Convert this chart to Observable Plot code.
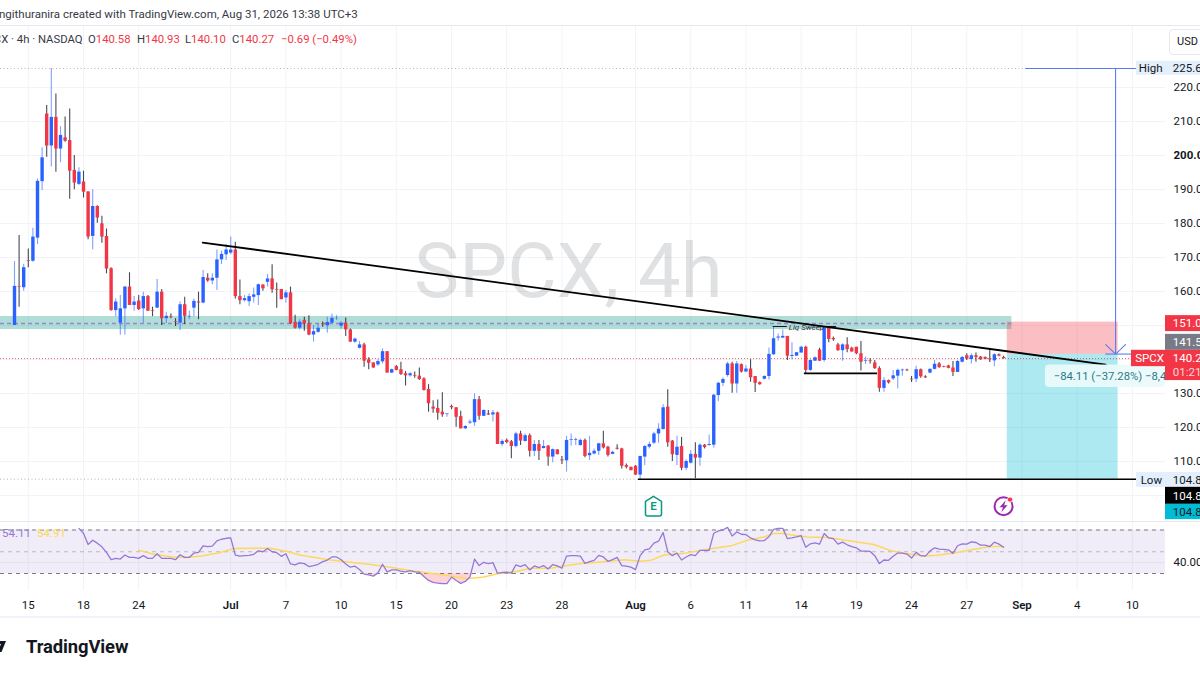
<!doctype html>
<html><head><meta charset="utf-8">
<script src="https://cdn.jsdelivr.net/npm/d3@7"></script>
<script src="https://cdn.jsdelivr.net/npm/@observablehq/plot@0.6"></script>
<style>
html,body{margin:0;padding:0;background:#fff;width:1200px;height:675px;overflow:hidden;font-family:Roboto,sans-serif;color:#131722}
#page{position:relative;width:1200px;height:675px;overflow:hidden}
.abs{position:absolute;white-space:nowrap}
.line{position:absolute;left:0;width:1200px;height:1px;background:#e6e8ef}
.leg{font-size:11.3px;top:33px;color:#363a45}
#main,#rsi{position:absolute;left:0;width:1200px}
#main{top:26px;height:495px}
#rsi{top:522px;height:95px}
#main svg,#rsi svg{display:block;background:transparent}
</style></head><body>
<div id="page">
<div class="abs" id="author" style="left:-1px;top:7px;font-size:11.5px;color:#363a45">ngithuranira created with TradingView.com, Aug 31, 2026 13:38 UTC+3</div>
<div class="line" style="top:25px"></div>
<div id="main"></div>
<div id="rsi"></div>
<div class="line" style="top:521px"></div>
<div class="abs leg" style="left:-20px">SPCX · 4h · NASDAQ</div>
<div class="abs leg" style="left:88px">O<span style="color:#f23645">140.58</span></div>
<div class="abs leg" style="left:137px">H<span style="color:#f23645">140.93</span></div>
<div class="abs leg" style="left:185px">L<span style="color:#f23645">140.10</span></div>
<div class="abs leg" style="left:232px">C<span style="color:#f23645">140.27</span></div>
<div class="abs leg" style="left:281px;color:#f23645">−0.69 (−0.49%)</div>
<div class="abs" style="left:1169px;top:29px;width:40px;height:24px;border:1px solid #e6e8ef;border-radius:4px;background:#fff"></div>
<div class="abs" style="left:1177px;top:35px;font-size:11px;color:#131722">USD</div>
<div class="abs" style="left:2px;top:526px;font-size:11.5px;color:#9478d0">54.11</div>
<div class="abs" style="left:37px;top:526px;font-size:11.5px;color:#fbd955">54.91</div>
<div class="line" style="top:616px;height:2px;background:#f0f3fa"></div>
<div class="abs" style="left:26px;top:636px;font-size:18.4px;font-weight:700;letter-spacing:-.1px;color:#131722">TradingView</div>
<svg class="abs" style="left:0;top:641px" width="6" height="12" aria-hidden="true"><path d="M-3 0H6L1.5 11H-2.5L1 3H-3Z" fill="#131722"/></svg>
</div>
<script>
const opens=[150,161.5,161.1,169.1,168.9,175.7,192.3,212.2,202.8,211.2,
201.9,205.2,204.4,195.6,191.5,192.2,189.3,176.2,185,179.9,
176.2,166.7,154.4,150.7,154.9,161.3,155.9,157.2,154.9,158.5,
154.4,155.1,159.8,152,152.7,151.1,150.7,156.1,152.5,155.1,
156.9,156.6,163.9,163.1,163.9,169.3,170.8,171.3,172.2,158.5,
157.3,157,158.3,158.8,161.9,162.7,163.7,160.6,160.6,158.1,
159.6,150.9,149.2,151.5,150.5,147.2,148,150.5,149.9,150.7,
152,149.8,150.7,148.7,145.1,143.3,144.3,139.9,139,138.4,
139.3,142.3,136,137.9,137,135.8,135.2,135.2,135.1,134.3,
131.2,126,125.6,124.5,123.8,126.2,125.8,123.2,119.6,121.3,
121.4,128.2,123.3,124,123.7,124.3,115,116.2,115.8,114.4,
118.1,115.9,117.6,113,115,113.8,114.5,111.3,113.4,110.5,
110.2,116.2,116.2,114.7,116.2,111.7,112.2,113,115.2,114.2,
112.1,113.9,113.7,108.8,108.3,108.6,106,111.3,114.2,115.4,
118.1,119.4,126,116,111.8,114.4,108,109.5,112.1,111,
114.8,114.7,114.8,129.4,133,135.3,138.7,132.8,138.5,136.3,
137.2,135,133.2,134.2,135,141.4,146.3,146.3,146.8,140.9,
141,141.9,143.6,136.8,139.5,142.8,139.7,149.3,146.2,144.3,
142.6,144.3,143.3,143.6,141.7,139.4,139.6,139,137.3,131.5,
133.8,134.3,135.1,136.7,136.9,134.2,134.2,137,134.9,136,
137.1,138.7,137.9,138.1,137.5,136.2,139.2,141.1,140,141.1,
140.7,140.6,140.2,139.6,141.4,140.58];
const highs=[168.8,176.5,168,172.5,178.6,193.1,202.3,214.7,225.6,218.1,
208.5,211.3,213.7,200,196.4,195.4,189.3,189.9,185.2,182.1,
178.4,167,157.8,158.8,161.5,165.5,158.5,158.8,159.8,158.8,
155.4,163.5,160.6,153.9,153.4,152,156.9,158.3,154.2,157.8,
159.8,166.2,165.2,165.2,172.2,171.9,173.8,176,174.5,163.4,
158.8,159.3,161,162.2,162,165,167.9,162.5,160.6,160.3,
161.3,153,151.7,152.4,152.9,150,150.5,151,152.4,153.4,
152.9,151,152.2,149,146.3,145.3,144.8,140.5,139,139.9,
143.1,142.3,137.2,138.2,139.2,136.5,136.1,136.3,137.5,134.6,
132.6,127.9,128.1,130.2,124,126.6,125.8,124.8,120.5,122.2,
129.9,129.1,125.2,125,125,124.5,116.4,116.6,116.2,118.6,
118.9,118.1,118.1,116.2,116.2,116.2,114.7,113.7,113.5,111.5,
117.4,118.1,116.9,116.6,116.6,117.4,113.7,115.4,118.9,114.5,
113,114.9,113.9,109.3,108.3,108.8,111.5,114.7,115.7,118.6,
121.1,126.7,131.1,116.2,117.4,117.1,110.5,113.2,115.5,115.2,
115,117.8,129.7,133.3,134.6,139.2,139.2,139.4,138.7,138.2,
139.9,135,133.4,135.2,143.4,149.5,147.5,148.7,146.8,144.9,
142,143.9,143.9,139.9,140.7,143.3,149.5,149.5,146.6,144.8,
144.6,146.4,143.6,143.6,145.3,140.7,140.2,139.7,137.9,134.6,
134,136.8,137.2,137.2,137.1,135,138,137.2,135.2,137.3,
139.7,139.1,138,138.3,139.4,139.7,140.9,141.7,141.7,141.9,
140.9,140.7,143,141.7,141.6,140.93];
const lows=[150,155.4,160.1,167,168.6,173.8,189.7,199.5,196.6,195.1,
197.9,203.9,187.1,189.9,191.2,187.5,175.2,172.3,180.1,174.2,
165.2,154.2,152.6,147.1,147.2,155.9,154.2,154.4,150.7,154.2,
152.6,155.1,150,150.5,152,149.7,148.5,150.3,151.7,152.6,
151.7,156.4,162.7,162,160.3,167.9,169.1,170.8,157.8,156.1,
156.9,155.6,156.6,155.9,160.1,161.3,159.5,155.1,157.6,156.6,
150.3,149,148.7,148.3,147,145.1,147.7,149.5,147.7,150.5,
151.5,149,146.8,145.1,144.8,143.1,137.7,137,137.4,138,
138.7,136,135.9,136.7,135.3,132.2,134.8,134.5,133.8,130.7,
124.5,124.2,122.1,123,123,125.2,120.1,119.6,119.5,120.9,
120.3,122.1,123.2,123.5,121.6,115,114.4,115.2,110.8,114,
114.7,115.7,111.3,111.5,110.3,113.7,108.6,109.6,112,109.1,
106.9,114.5,114.7,114.5,111.1,110.3,112,111.8,113.7,111.3,
112,113.4,107.8,107.8,107.3,105.9,104.8,108.8,113.7,115,
115.4,119.3,114.2,110,108.8,107.3,107.3,109.3,104.9,108.6,
113.7,114.5,114,127.6,132,134.8,130.1,130.1,136,136.3,
133.3,130.3,132.4,134,134,141.2,145.4,146.2,139.7,139.9,
140.9,141.9,135.8,136.5,139.4,139.4,139.2,144.9,145.4,142.4,
139.5,142,142.2,141.4,136.6,138.5,138.7,137.1,130.4,130.4,
132.8,133.8,131.3,135.1,136.5,133.2,133.2,134.5,134.4,135.8,
136.9,137.4,137.6,137.3,135,136.2,139,139.7,138.7,139.2,
139.8,139.9,139.1,137.9,140.8,140.1];
const closes=[161.5,161.3,167,168.9,176,192.4,199.3,202.8,211.2,201.9,
205.9,204.2,195.4,191.9,195.1,189.2,176,185,181.6,176,
166.6,154.4,156.9,154.9,161.3,155.9,156.9,154.7,158.5,154.2,
154.2,159.8,152,152.7,152.5,150.9,156.1,152.7,152.7,157.1,
156.6,164.1,163.1,163.9,169.3,170.9,172.2,172.2,158.5,157.3,
157.9,158.5,159,162,160.8,163.7,160.5,160.4,157.6,159.6,
150.5,149.2,151,150.5,147.2,148.2,149.2,150.2,150.9,152.1,
152.1,150.7,148.7,145.1,146,144.3,139.5,138.9,137.5,139.4,
142.3,136,137,136.8,135.6,135.2,135.8,135,134.1,130.9,
127,125.4,124.2,123.7,124,125.8,123,119.6,120.3,121.6,
128.2,123.3,125,123.7,124.3,115,115.9,115.6,114.4,118.1,
116,117.6,113,115,113,114.4,111.3,113.5,112,110.2,
116.2,116.4,116.4,116.2,111.5,112.4,113,115.2,114,111.8,
112.7,113.6,108.6,108.3,107.3,106,111.5,114.4,115,118.1,
119.5,125.8,115.5,112,114.2,108,110,112.1,111,114.8,
114.1,115,129.5,133,134.1,138.7,132.8,138.7,136.3,137.2,
134.6,133,132.6,135,141.5,146.1,146.6,146.8,141,141.2,
142,143.6,136.8,139.7,140.5,139.5,149.3,145.9,145.8,142.6,
144.3,142.9,142.2,141.7,139.2,139.6,139.4,137.3,131.5,133.8,
133.1,135.2,136.8,136.9,136.7,134,137,134.9,134.6,137.1,
138.6,137.6,137.7,137.4,136.2,139.4,140.6,140.1,141.1,140.6,
139.9,140.1,139.9,141.4,141,140.27];
const rsiFirstBar=14;
const rsiValues=[71.5,67,56.7,60.6,57.9,54.5,49.4,42.7,43.9,43.3,
47,44.8,44.8,43.9,46.4,43.9,43.9,48.2,43.9,43.9,
43.9,42.7,47.3,44.8,44.8,48.8,49.4,55.5,54.8,55.2,
60,61.5,62.4,62.7,47,46,46.4,46.7,47.6,50.9,
50,53,50,49.1,45.8,48.2,38.8,37.9,39.7,39.1,
36.4,37.3,38.5,40.9,42.4,45.2,45.2,42.7,38.8,35.8,
36.7,33.6,29.4,28.8,27.6,30.6,38.5,31.5,33.3,33.3,
32.1,31.5,32.7,31.5,31.2,27.3,23.6,21.8,21.2,20.6,
20.6,26.7,23.6,20.9,22.7,26.7,43.3,37.3,40.3,39.1,
40,30.3,30.9,31.2,30.3,37.9,36.4,38.2,33.3,37,
35.5,37.3,34.2,38.2,37,34.8,46,46.4,46.4,46,
39.4,40.9,42.1,46.7,45.2,41.2,42.7,44.8,37.3,36.7,
35.8,33.6,46.4,51.8,52.7,57.9,59.7,67.6,50,46.4,
48.8,42.4,45.2,47.3,46.4,51.2,51.2,51.2,67,69.1,
70,72.4,64.5,68.2,66.1,65.8,62.7,60.9,60,60.3,
63.9,70.6,71.5,71.5,62.1,62.7,63.6,64.8,54.2,57.3,
58.2,57,66.7,62.7,62.1,57,58.8,56.4,54.8,53.6,
50.6,50.6,50.3,46.4,39.1,42.4,42.1,45.8,48.8,48.8,
47.9,44.2,49.4,46.4,46,50.6,53.6,52.4,52.1,51.8,
48.5,55.5,57.3,57,59.1,58.5,56.1,56.1,54.8,58.8,57,54.11];
const maBars=[27,30,34,37.5,41,44.8,47.7,52,55.6,59.3,62,64.3,68.7,73,77.4,81.7,86,90.4,94.8,98.4,102,105,109.3,112.2,116.5,120.1,123.8,128.1,132.5,136.1,138.3,141.2,145.5,149.1,152.8,155.6,159.3,162.9,165.1,167.2,168.7,172.3,176.7,181,186.8,190.4,194.1,197.7,200.6,204.2,208.6,212.2,215];
const maValues=[51.5,47.9,45.5,44.8,46.4,49.4,53,53.3,53.3,50.3,47,45.4,42.4,40.3,38.2,35.8,32.7,30.3,27.6,25.2,26.7,29.7,32.1,34.8,34.8,37.3,39.4,40.9,42.7,41.2,42.1,47,48.5,51.2,53.6,55.2,60.6,63.6,66.7,66.7,65.6,63.6,63,60.3,56.7,51.2,48.2,46,46.7,48.8,52.4,54.8,54.91];

const priceTicks=[220,210,190,180,170,160,130,120,110];
const boldPriceTicks=[200];
const priceGrid=[220,210,200,190,180,170,160,150,140,130,120,110,100];
const tickBars=[3,15,27,47,59,71,83,95,107,119,135,147,159,171,183,195,207,219,231,243];
const tickLabels=["15","18","24","Jul","7","10","15","20","23","28","Aug","6","11","14","19","24","27","Sep","4","10"];
const monthLabels=["Jul","Aug","Sep"];

const trendBars=[40.9,237.2], trendPrices=[174.4,138.5];
const chevronBars=[237.2,239.35,241.5], chevronPrices=[144.4,141.6,144.4];
const tags=[
 {label:"High",a:243.9,b:250.2,top:227.7,bottom:223.6,fill:"#e3effd",color:"#131722",at:225.6,pad:.5},
 {label:"225.60",a:250.2,b:259,top:227.7,bottom:223.6,fill:"#e3effd",color:"#131722",at:225.6,pad:1.6},
 {label:"151.00",a:250.2,b:259,top:152.9,bottom:148.2,fill:"#f23645",color:"#fff",at:150.6,pad:1.6},
 {label:"141.50",a:250.2,b:259,top:147.4,bottom:142.7,fill:"#787b86",color:"#fff",at:145,pad:1.6},
 {label:"140.27",a:250.2,b:259,top:142.7,bottom:133.8,fill:"#f23645",color:"#fff",at:140.3,pad:1.6},
 {label:"01:21:08",a:250.2,b:250.2,top:136,bottom:136,fill:"#f23645",color:"#ffd5d9",at:136.1,pad:1.6},
 {label:"SPCX",a:242.8,b:250.2,top:142.7,bottom:137.9,fill:"#f23645",color:"#fff",at:140.3,pad:.8},
 {label:"Low",a:243.9,b:250.2,top:106.8,bottom:102.4,fill:"#e3effd",color:"#131722",at:104.6,pad:.9},
 {label:"104.80",a:250.2,b:259,top:106.8,bottom:102.4,fill:"#e3effd",color:"#131722",at:104.6,pad:1.6},
 {label:"104.80",a:250.2,b:259,top:102.4,bottom:97.4,fill:"#000",color:"#fff",at:99.85,pad:1.6},
 {label:"104.80",a:250.2,b:259,top:97.4,bottom:92.9,fill:"#00bcd4",color:"#131722",at:95.15,pad:1.6}
];

const bars=opens.map((o,i)=>({i,o,h:highs[i],l:lows[i],c:closes[i],up:closes[i]>=o}));
const xScale={domain:[-3.043,250.2]};
const blue="#2962ff", red="#f23645", ink="#131722";
const gridColor="#f1f3f7";
const fontStyle={fontFamily:"Roboto,sans-serif",fontSize:"11.5px",background:"transparent",color:ink};

const houseSymbol={draw(c){c.moveTo(0,-10);c.lineTo(8,-5);c.lineTo(8,7.5);c.arcTo(8,9.5,6,9.5,2);c.lineTo(-6,9.5);c.arcTo(-8,9.5,-8,7.5,2);c.lineTo(-8,-5);c.closePath();}};
const boltSymbol={draw(c){c.moveTo(2.2,-6);c.lineTo(-4,1);c.lineTo(-.6,1);c.lineTo(-2.2,6);c.lineTo(4,-1);c.lineTo(.6,-1);c.closePath();}};

const main=Plot.plot({
  width:1200,height:495,marginTop:0,marginBottom:0,marginLeft:0,marginRight:35,
  style:fontStyle,
  x:{...xScale,axis:null},
  y:{domain:[100,220],range:[469,61],axis:null},
  marks:[
    Plot.gridY(priceGrid,{stroke:gridColor,strokeOpacity:1}),
    Plot.gridX(tickBars,{stroke:gridColor,strokeOpacity:1}),
    Plot.text(["SPCX, 4h"],{x:()=>120.4,y:()=>165.6,fontSize:76,fill:ink,fillOpacity:.13,fontFamily:"Roboto,sans-serif"}),
    Plot.ruleY([225.6],{x1:-3.04,x2:219.8,stroke:"#9598a1",strokeDasharray:"1 2.5",strokeOpacity:.75}),
    Plot.ruleY([104.8],{x1:-3.04,x2:243.9,stroke:"#9598a1",strokeDasharray:"1 2.5",strokeOpacity:.75}),
    Plot.rect([0],{x1:-3.04,x2:216.8,y1:()=>152.65,y2:()=>148.8,fill:"#089981",fillOpacity:.32}),
    Plot.rect([0],{x1:215.8,x2:239.9,y1:()=>151,y2:()=>141.5,fill:red,fillOpacity:.32}),
    Plot.rect([0],{x1:215.8,x2:239.9,y1:()=>141.5,y2:()=>104.8,fill:"#00bcd4",fillOpacity:.32}),
    Plot.ruleY([150.6],{x1:-3.04,x2:216.8,stroke:"#9c7fd6",strokeWidth:1.5,strokeDasharray:"4 3"}),
    Plot.ruleY([140.27],{stroke:red,strokeDasharray:"1 2",strokeOpacity:.8}),
    Plot.ruleX(bars,{x:"i",y1:"l",y2:"h",stroke:d=>d.up?blue:ink,strokeOpacity:d=>d.up?.6:.78,strokeWidth:1.1}),
    Plot.ruleX(bars,{x:"i",y1:"o",y2:"c",stroke:d=>d.up?blue:red,strokeWidth:3.4}),
    Plot.ruleY([225.6],{x1:219.8,x2:243.9,stroke:"#5d7bf0",strokeWidth:1.1}),
    Plot.ruleX([239.35],{y1:225.6,y2:141.6,stroke:"#5d7bf0",strokeWidth:1.1}),
    Plot.ruleY([141.6],{x1:237.2,x2:242.8,stroke:"#5d7bf0",strokeWidth:1.1}),
    Plot.line(chevronBars,{x:d=>d,y:(d,i)=>chevronPrices[i],stroke:"#5d7bf0",strokeWidth:1.1}),
    Plot.ruleY([149.7],{x1:164.9,x2:168,stroke:ink,strokeWidth:1}),
    Plot.ruleY([149.7],{x1:175.6,x2:178.7,stroke:ink,strokeWidth:1}),
    Plot.text(["Liq Sweep"],{x:()=>168.3,y:()=>149.5,textAnchor:"start",fontSize:8,fontStyle:"italic",fill:"#2a2e39"}),
    Plot.ruleY([135.9],{x1:171.7,x2:187.6,stroke:"#000",strokeWidth:1.8}),
    Plot.ruleY([104.8],{x1:135.65,x2:243.9,stroke:"#000",strokeWidth:1.6}),
    Plot.line(trendBars,{x:d=>d,y:(d,i)=>trendPrices[i],stroke:"#000",strokeWidth:1.8}),
    Plot.rect([0],{x1:224.1,x2:250.2,y1:()=>138.4,y2:()=>131.8,fill:"#ecfafb",fillOpacity:.92,rx:4,clip:"frame"}),
    Plot.text(["−84.11 (−37.28%) −8,4"],{x:()=>225.9,y:()=>135,textAnchor:"start",fontSize:11.3,fill:"#2a7a86",clip:"frame"}),
    Plot.dot([0],{x:()=>138.9,y:()=>96.8,symbol:houseSymbol,r:9,fill:"#fff",stroke:"#089981",strokeWidth:1.5}),
    Plot.text(["E"],{x:()=>138.9,y:()=>96.7,fontSize:11.5,fontWeight:600,fill:"#089981"}),
    Plot.dot([0],{x:()=>215,y:()=>96.85,r:9,fill:"#fff",stroke:"#9c27b0",strokeWidth:2}),
    Plot.dot([0],{x:()=>215,y:()=>96.85,symbol:boltSymbol,r:6,fill:"#9c27b0",stroke:"none"}),
    Plot.dot([0],{x:()=>216.4,y:()=>98.8,r:2.6,fill:red,stroke:"#fff",strokeWidth:.8}),
    Plot.axisY(priceTicks,{anchor:"right",tickSize:0,tickPadding:8,label:null,tickFormat:d=>d.toFixed(2),fill:ink}),
    Plot.axisY(boldPriceTicks,{anchor:"right",tickSize:0,tickPadding:8,label:null,tickFormat:d=>d.toFixed(2),fontWeight:"bold",fill:ink}),
    Plot.rect(tags.filter(t=>t.a<t.b),{x1:"a",x2:"b",y1:"top",y2:"bottom",fill:"fill"}),
    Plot.text(tags,{x:d=>d.a+d.pad,y:"at",text:"label",fill:"color",textAnchor:"start",fontSize:11.5})
  ]
});
document.getElementById("main").append(main);

const rsiRows=rsiValues.map((v,k)=>({i:k+rsiFirstBar,v}));
const dayTicks=tickBars.filter((b,k)=>!monthLabels.includes(tickLabels[k]));
const monthTicks=tickBars.filter((b,k)=>monthLabels.includes(tickLabels[k]));
const labelOf=b=>tickLabels[tickBars.indexOf(b)];
const rsi=Plot.plot({
  width:1200,height:95,marginTop:0,marginBottom:27,marginLeft:0,marginRight:35,
  style:fontStyle,
  x:{...xScale,axis:null},
  y:{domain:[30,70],range:[51,7.5],axis:null},
  marks:[
    Plot.gridX(tickBars,{stroke:gridColor,strokeOpacity:1}),
    Plot.rect([0],{y1:()=>70,y2:()=>30,fill:"#7e57c2",fillOpacity:.11}),
    Plot.ruleY([40],{stroke:"#e3e0ee"}),
    Plot.ruleY([70,30],{stroke:"#787b86",strokeDasharray:"4 4"}),
    Plot.ruleY([50],{stroke:"#787b86",strokeOpacity:.45,strokeDasharray:"4 4"}),
    Plot.areaY(rsiRows,{x:"i",y1:()=>30,y2:d=>Math.min(d.v,30),fill:red,fillOpacity:.22}),
    Plot.line(maBars,{x:d=>d,y:(d,i)=>maValues[i],stroke:"#fdd85d",strokeWidth:1.5}),
    Plot.line(rsiRows,{x:"i",y:"v",stroke:"#9578d6",strokeWidth:1.3}),
    Plot.axisY([40],{anchor:"right",tickSize:0,tickPadding:8,label:null,tickFormat:d=>d.toFixed(2),fill:ink}),
    Plot.axisX(dayTicks,{anchor:"bottom",tickSize:0,tickPadding:10,label:null,tickFormat:labelOf,fill:ink}),
    Plot.axisX(monthTicks,{anchor:"bottom",tickSize:0,tickPadding:10,label:null,tickFormat:labelOf,fontWeight:"600",fill:ink})
  ]
});
document.getElementById("rsi").append(rsi);
</script>
</body></html>
